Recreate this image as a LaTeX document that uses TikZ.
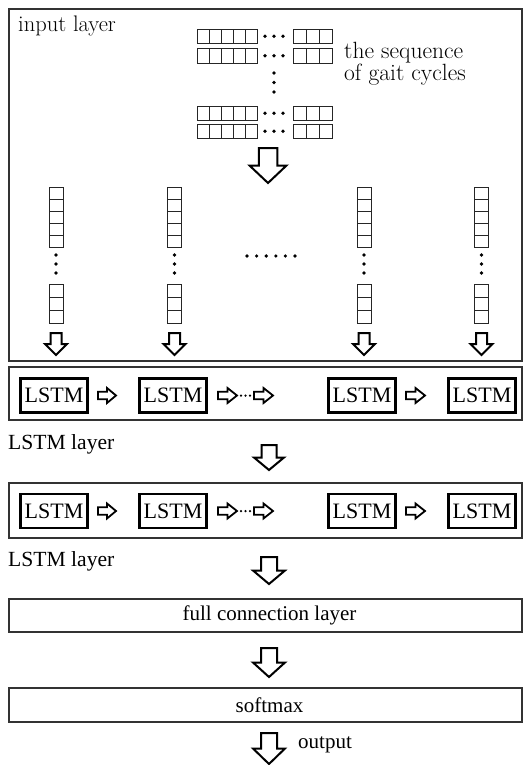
\documentclass[tikz,border=0pt]{standalone}
\usepackage{fontspec}
\newfontfamily\tnr{Liberation Serif}
\newcommand\DArr[4]{%
  \draw[blockarr] ({#1-#3/4},#2) -- ({#1+#3/4},#2) -- ({#1+#3/4},{#2+#4/2}) -- ({#1+#3/2},{#2+#4/2}) -- (#1,{#2+#4}) -- ({#1-#3/2},{#2+#4/2}) -- ({#1-#3/4},{#2+#4/2}) -- cycle;}
\newcommand\RArr[4]{%
  \draw[blockarr,line width=1.8pt] (#1,{#2-#4/4}) -- ({#1+#3*0.5},{#2-#4/4}) -- ({#1+#3*0.5},{#2-#4/2}) -- ({#1+#3},#2) -- ({#1+#3*0.5},{#2+#4/2}) -- ({#1+#3*0.5},{#2+#4/4}) -- (#1,{#2+#4/4}) -- cycle;}
\newcommand\CellRow[5]{%
  \foreach \i in {1,...,#3} {\draw[cellbox] ({#1+(\i-1)*#4},#2) rectangle ++(#4,#5);}}
\newcommand\CellCol[5]{%
  \foreach \i in {1,...,#3} {\draw[cellbox] (#1,{#2+(\i-1)*#5}) rectangle ++(#4,#5);}}
\begin{document}
\begin{tikzpicture}[x=1pt,y=-1pt,
  layerbox/.style={draw=black!80, line width=1.2pt, inner sep=0pt, outer sep=0pt, anchor=north west},
  cellbox/.style={draw=black!85, line width=0.9pt},
  lstm/.style={draw, line width=2.4pt, minimum width=67pt, minimum height=34pt, inner sep=0pt, font=\tnr\fontsize{22}{26}\selectfont},
  blockarr/.style={draw, line width=2pt, line join=miter, fill=white},
  dotn/.style={circle, fill, inner sep=0pt, minimum size=3.6pt},
  lbl/.style={font=\tnr\fontsize{21}{25}\selectfont, inner sep=0pt},
  toplbl/.style={font=\fontsize{22.5}{22.5}\selectfont, inner sep=0pt}]
\useasboundingbox (0,0) rectangle (524,765);

% layer boxes
\node[layerbox, minimum width=513pt, minimum height=352pt] (input) at (9,9) {};
\node[layerbox, minimum width=513pt, minimum height=53pt] (lay1) at (9,367) {};
\node[layerbox, minimum width=513pt, minimum height=55pt] (lay2) at (9,483) {};
\node[layerbox, minimum width=513pt, minimum height=33pt] (fc) at (9,599) {};
\node[layerbox, minimum width=513pt, minimum height=34pt] (sm) at (9,688) {};

% input layer texts
\node[toplbl, anchor=base west] (inlbl) at (18,32) {input layer};
\node[toplbl, anchor=west, align=left, font=\fontsize{23.5}{18.5}\selectfont] (seq) at (344,64) {the sequence\\of gait cycles};

% sequence grids
\foreach \y in {29,48.5,106,124} {
  \CellRow{197}{\y}{5}{12}{14.5}
  \CellRow{293}{\y}{3}{13}{14.5}
  \foreach \x in {265,274,283} {\node[dotn] at (\x,{\y+7.25}) {};}
}
\foreach \y in {73,82.5,92} {\node[dotn] at (274,\y) {};}
\DArr{268}{148}{37}{35}

% column vectors
\foreach \cx in {56,174.5,364,481.5} {
  \CellCol{\cx-7}{187}{5}{14}{12}
  \foreach \y in {255,264,273} {\node[dotn] at (\cx,\y) {};}
  \CellCol{\cx-7}{284}{3}{14}{13}
  \DArr{\cx}{333}{22}{22}
}
\foreach \x in {247,256.6,266.2,275.8,285.4,295} {\node[dotn] at (\x,256) {};}

% LSTM layer 1
\node[lstm] (a1) at (54,395.5) {LSTM};
\node[lstm] (a2) at (173,395.5) {LSTM};
\node[lstm] (a3) at (362,395.5) {LSTM};
\node[lstm] (a4) at (482,395.5) {LSTM};
\RArr{98}{395.5}{18}{15}
\RArr{218}{395.5}{19}{15}
\RArr{254}{395.5}{19}{15}
\RArr{406}{395.5}{19}{15}
\foreach \x in {241,245.5,250} {\node[dotn, minimum size=2.5pt] at (\x,395.5) {};}
\node[lbl, anchor=base west, font=\tnr\fontsize{21.6}{25}\selectfont] (l1) at (8,449) {LSTM layer};
\DArr{269}{445}{30}{25}

% LSTM layer 2
\node[lstm] (b1) at (54,511) {LSTM};
\node[lstm] (b2) at (173,511) {LSTM};
\node[lstm] (b3) at (362,511) {LSTM};
\node[lstm] (b4) at (482,511) {LSTM};
\RArr{98}{511}{18}{15}
\RArr{218}{511}{19}{15}
\RArr{254}{511}{19}{15}
\RArr{406}{511}{19}{15}
\foreach \x in {241,245.5,250} {\node[dotn, minimum size=2.5pt] at (\x,511) {};}
\node[lbl, anchor=base west, font=\tnr\fontsize{21.6}{25}\selectfont] (l2) at (8,566) {LSTM layer};
\DArr{269}{557}{32}{27}

% full connection & softmax
\node[lbl] (fct) at (269.5,615.5) {full connection layer};
\DArr{269}{648}{32}{29}
\node[lbl] (smt) at (269.5,705) {softmax};
\DArr{269}{733}{32}{31}
\node[lbl, anchor=base west] (out) at (298,748) {output};
\end{tikzpicture}
\end{document}
